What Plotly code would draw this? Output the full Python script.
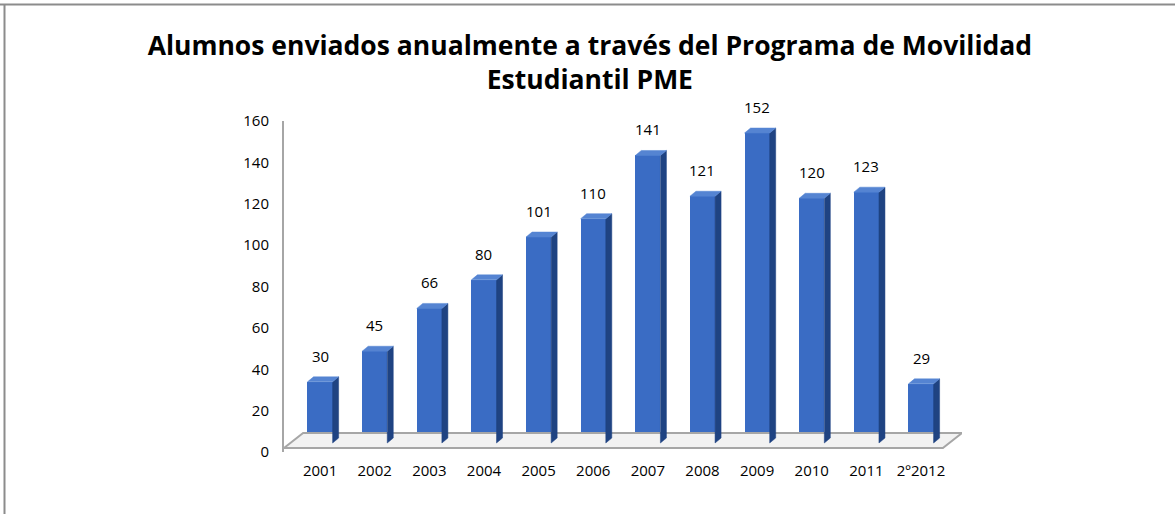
import plotly.graph_objects as go

categories = ["2001", "2002", "2003", "2004", "2005", "2006", "2007", "2008", "2009", "2010", "2011", "2º2012"]
values = [30, 45, 66, 80, 101, 110, 141, 121, 152, 120, 123, 29]
y_ticks = [0, 20, 40, 60, 80, 100, 120, 140, 160]
title_text = "Alumnos enviados anualmente a través del Programa de Movilidad<br>Estudiantil PME"

W, H = 1175, 514
ML, MR, MT, MB = 284, 213, 121, 62
XR = [-0.66, 11.75]
Y1R = [0, 160]
Y2R = [-4.41, 157.9]
BW = 0.46      # bar front width (x units)
DX = 0.11      # depth offset in x units
DY = 2.45      # depth offset in y2 units

FONT = "Open Sans"
front = "#3A6CC4"
side = "#1F4382"
top = "#5584D2"

xs = list(range(len(categories)))
fig = go.Figure()

# floor slab
fx0, fx1 = XR[0], XR[1]
fig.add_trace(go.Scatter(
    x=[fx0, fx0 + 0.35, fx1, fx1 - 0.35, fx0],
    y=[-2.45, 4.9, 4.9, -2.45, -2.45],
    fill="toself", fillcolor="#F2F2F2", mode="lines",
    line=dict(color="#A6A6A6", width=2), yaxis="y2",
    hoverinfo="skip", showlegend=False))

# front faces
fig.add_trace(go.Bar(x=xs, y=values, width=BW, marker=dict(color=front, line=dict(width=0)),
                     yaxis="y2", showlegend=False, hoverinfo="skip"))

# side and top faces computed from values
for x, v in zip(xs, values):
    r = x + BW / 2
    l = x - BW / 2
    fig.add_trace(go.Scatter(
        x=[r, r + DX, r + DX, r, r], y=[0, DY, v + DY, v, 0],
        fill="toself", fillcolor=side, mode="lines", line=dict(color=side, width=0.5),
        yaxis="y2", hoverinfo="skip", showlegend=False))
    fig.add_trace(go.Scatter(
        x=[l, l + DX, r + DX, r, l], y=[v, v + DY, v + DY, v, v],
        fill="toself", fillcolor=top, mode="lines", line=dict(color=top, width=0.5),
        yaxis="y2", hoverinfo="skip", showlegend=False))

annotations = []
for x, v in zip(xs, values):
    annotations.append(dict(x=x, y=v, xref="x", yref="y2", text=str(v), showarrow=False,
                            yanchor="middle", yshift=26,
                            font=dict(family=FONT, size=15, color="#000000")))

# dummy trace on y so the left axis renders
fig.add_trace(go.Scatter(x=[None], y=[None], yaxis="y", showlegend=False, hoverinfo="skip"))

fig.update_layout(
    width=W, height=H,
    margin=dict(l=ML, r=MR, t=MT, b=MB, pad=0),
    paper_bgcolor="white", plot_bgcolor="rgba(0,0,0,0)",
    showlegend=False,
    title=dict(text=title_text, x=0.502, xanchor="center", xref="container",
               y=1 - 55 / H, yanchor="top", yref="container",
               font=dict(family=FONT, size=26.5, color="#000000", weight="bold")),
    xaxis=dict(range=XR, tickmode="array", tickvals=xs, ticktext=categories,
               showgrid=False, zeroline=False, showline=False, ticks="",
               ticklabelstandoff=8,
               tickfont=dict(family=FONT, size=15, color="#000000")),
    yaxis=dict(range=Y1R, tickmode="array", tickvals=y_ticks, showgrid=False, zeroline=False,
               showline=True, linecolor="#A6A6A6", linewidth=2, ticks="",
               ticklabelstandoff=10,
               tickfont=dict(family=FONT, size=15, color="#000000")),
    yaxis2=dict(range=Y2R, overlaying="y", visible=False),
    bargap=0,
    annotations=annotations,
    shapes=[
        dict(type="line", xref="paper", yref="paper", x0=-ML / (W - ML - MR), x1=(W - ML) / (W - ML - MR),
             y0=(H - MB - 4.5) / (H - MT - MB), y1=(H - MB - 4.5) / (H - MT - MB),
             line=dict(color="#8C8C8C", width=2)),
        dict(type="line", xref="paper", yref="paper", x0=-(ML - 4.5) / (W - ML - MR), x1=-(ML - 4.5) / (W - ML - MR),
             y0=-MB / (H - MT - MB), y1=(H - MB - 4.5) / (H - MT - MB),
             line=dict(color="#8C8C8C", width=2)),
    ],
)

fig.write_html("out.html", config={"displayModeBar": False},
               post_script="document.body.style.margin='0';")
